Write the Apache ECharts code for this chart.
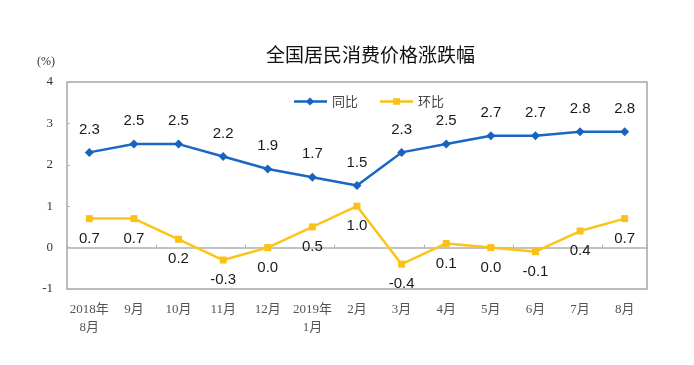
<!DOCTYPE html>
<html><head><meta charset="utf-8">
<script src="https://cdn.jsdelivr.net/npm/echarts@6/dist/echarts.min.js"></script>
<style>html,body{margin:0;padding:0;background:#fff}#c{width:694px;height:365px}</style>
</head><body><div id="c"></div>
<script>
const categories = ['2018年\n8月','9月','10月','11月','12月','2019年\n1月','2月','3月','4月','5月','6月','7月','8月'];
const tongbi = [2.3,2.5,2.5,2.2,1.9,1.7,1.5,2.3,2.5,2.7,2.7,2.8,2.8];
const huanbi = [0.7,0.7,0.2,-0.3,0.0,0.5,1.0,-0.4,0.1,0.0,-0.1,0.4,0.7];
const yTicks = [-1,0,1,2,3,4];

const chart = echarts.init(document.getElementById('c'));
const labelFont = {fontFamily:'Liberation Sans, Arial', fontSize:15, color:'#1a1a1a'};
chart.setOption({
  animation:false,
  title:{text:'全国居民消费价格涨跌幅',left:261,top:40,textStyle:{fontFamily:'Noto Sans CJK SC',fontSize:19,fontWeight:'normal',color:'#111'}},
  graphic:[{type:'text',left:37,top:56,style:{text:'(%)',font:'12px Liberation Serif',fill:'#333'}}],
  legend:{top:90,left:289,itemWidth:33,itemHeight:9,itemGap:22,
    textStyle:{fontFamily:'Noto Sans CJK SC',fontSize:13,color:'#444'},
    data:[{name:'同比',icon:'path://M0,3.3 L13,3.3 L16,0.5 L19,3.3 L33,3.3 L33,5.7 L19,5.7 L16,8.5 L13,5.7 L0,5.7 Z'},
          {name:'环比',icon:'path://M0,3.3 L13,3.3 L13,1.2 L20,1.2 L20,3.3 L33,3.3 L33,5.7 L20,5.7 L20,7.8 L13,7.8 L13,5.7 L0,5.7 Z'}]},
  grid:{left:67,right:47,top:82,bottom:76,show:true,borderColor:'#a6a6a6',borderWidth:1.5},
  xAxis:[{type:'category',data:categories,boundaryGap:true,
    axisLine:{onZero:false,show:false},axisTick:{show:false},
    axisLabel:{fontFamily:'Liberation Serif, Noto Sans CJK SC',fontSize:13,color:'#555',margin:12,interval:0,lineHeight:18}},
   {type:'category',data:categories,boundaryGap:true,position:'bottom',
    axisLine:{onZero:true,lineStyle:{color:'#b0b0b0',width:1.5}},
    axisTick:{show:true,inside:true,length:3,lineStyle:{color:'#b0b0b0'}},
    axisLabel:{show:false}}],
  yAxis:{type:'value',min:-1,max:4,interval:1,
    axisLine:{show:false},axisTick:{show:true,inside:true,length:3,lineStyle:{color:'#b0b0b0'}},
    splitLine:{show:false},
    axisLabel:{fontFamily:'Liberation Serif',fontSize:13,color:'#333',margin:14,
      formatter:v=>yTicks.includes(v)?String(v):''}},
  series:[
    {name:'同比',type:'line',data:tongbi,color:'#1565c0',symbol:'diamond',symbolSize:9,
     lineStyle:{width:2.5,color:'#1b67c4'},itemStyle:{color:'#1565c0'},
     label:{show:true,position:'top',distance:11,formatter:p=>p.value.toFixed(1),...labelFont}},
    {name:'环比',type:'line',data:huanbi,color:'#fbc116',symbol:'rect',symbolSize:7,
     lineStyle:{width:2.5,color:'#fcc419'},itemStyle:{color:'#fbc116'},
     label:{show:true,position:'bottom',distance:9,formatter:p=>p.value.toFixed(1),...labelFont}}
  ]
});
</script></body></html>
